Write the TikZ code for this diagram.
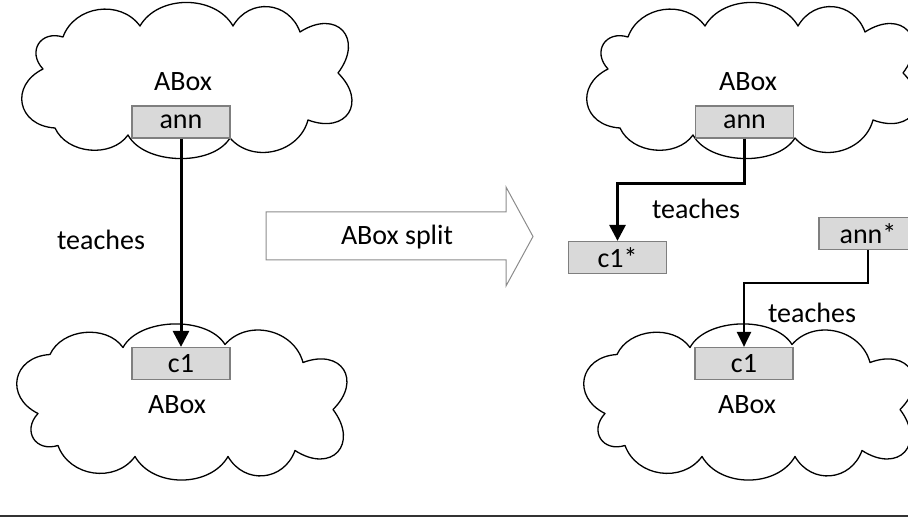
\documentclass[tikz,border=0pt]{standalone}
\usepackage{fontspec}
\setmainfont{Carlito}
\usetikzlibrary{arrows.meta,calc}
\definecolor{boxfill}{HTML}{D9D9D9}
\definecolor{boxline}{HTML}{7F7F7F}
\definecolor{arrline}{HTML}{8C8C8C}
\tikzset{
 cloudline/.style={draw=black, line width=1.3pt, line join=round, line cap=round},
 ibox/.style={draw=boxline, fill=boxfill, line width=1.2pt, minimum width=98pt, minimum height=32pt, inner sep=0pt, font=\fontsize{28}{33}\selectfont},
 lbl/.style={font=\fontsize{28}{33}\selectfont, inner sep=1pt},
 conn/.style={draw=black, line width=3pt, -{Triangle[width=16pt,length=16pt]}},
 conntwo/.style={draw=black, line width=2.3pt, -{Triangle[width=14pt,length=15pt]}},
 bigarrow/.style={draw=arrline, line width=1pt, fill=white},
 rule/.style={draw=black!80, line width=1.3pt}
}
\newcommand\abcloud[3]{%
 \begin{scope}[shift={(#1,-#2)}]
 \draw[cloudline] (155,{#3*(-6)})
   to[bend left={80*#3},looseness=2.0] (117,{#3*(-47)})
   to[bend left={65*#3},looseness=1.25] (50,{#3*(-53)})
   to[bend left={60*#3},looseness=1.0] (-43,{#3*(-53)})
   to[bend left={62*#3},looseness=1.1] (-120,{#3*(-42)})
   to[bend left={75*#3},looseness=1.6] (-140,{#3*(-10)})
   to[bend left={75*#3},looseness=1.6] (-128,{#3*(49)})
   to[bend left={60*#3},looseness=1.0] (-55,{#3*(56)})
   to[bend left={60*#3},looseness=0.85] (47,{#3*(59)})
   to[bend left={62*#3},looseness=1.1] (125,{#3*(41)})
   to[bend left={78*#3},looseness=1.9] (155,{#3*(-6)});
 \end{scope}}
\begin{document}
\begin{tikzpicture}[x=1pt,y=1pt]
\useasboundingbox[fill=white] (0,0) rectangle (908,-518);
% clouds
\abcloud{183}{79}{-1}
\abcloud{178}{403.5}{1}
\abcloud{748}{79}{-1}
\abcloud{745}{403.5}{1}
% labels in clouds
\node[lbl] (abTL) at (183,-82) {ABox};
\node[lbl] (abBL) at (177,-405) {ABox};
\node[lbl] (abTR) at (748,-82) {ABox};
\node[lbl] (abBR) at (747,-405) {ABox};
% boxes
\node[ibox] (annL) at (181,-122) {ann};
\node[ibox] (c1L) at (181,-363.5) {c1};
\node[ibox] (annR) at (744.5,-122) {ann};
\node[ibox] (c1s) at (617.5,-257.5) {c1*};
\node[ibox] (anns) at (868,-233.5) {ann*};
\node[ibox] (c1R) at (744,-363.5) {c1};
% block arrow
\draw[bigarrow] (266,-212) -- (506,-212) -- (506,-187) -- (533,-236.5) -- (506,-286) -- (506,-260) -- (266,-260) -- cycle;
\node[lbl] (split) at (397,-237) {ABox split};
% connectors
\draw[conn] (annL.south) -- (c1L.north);
\draw[conn] (annR.south) -- ++(0,-45) -| (c1s.north);
\draw[conntwo] (anns.south) -- ++(0,-33) -| (c1R.north);
% connector labels
\node[lbl] (t1) at (101,-240) {teaches};
\node[lbl] (t2) at (696,-209) {teaches};
\node[lbl, fill=white] (t3) at (812,-313) {teaches};
% bottom rule
\coordinate (r1) at (0,-516);
\coordinate (r2) at (908,-516);
\draw[rule] (r1) -- (r2);
\end{tikzpicture}
\end{document}
